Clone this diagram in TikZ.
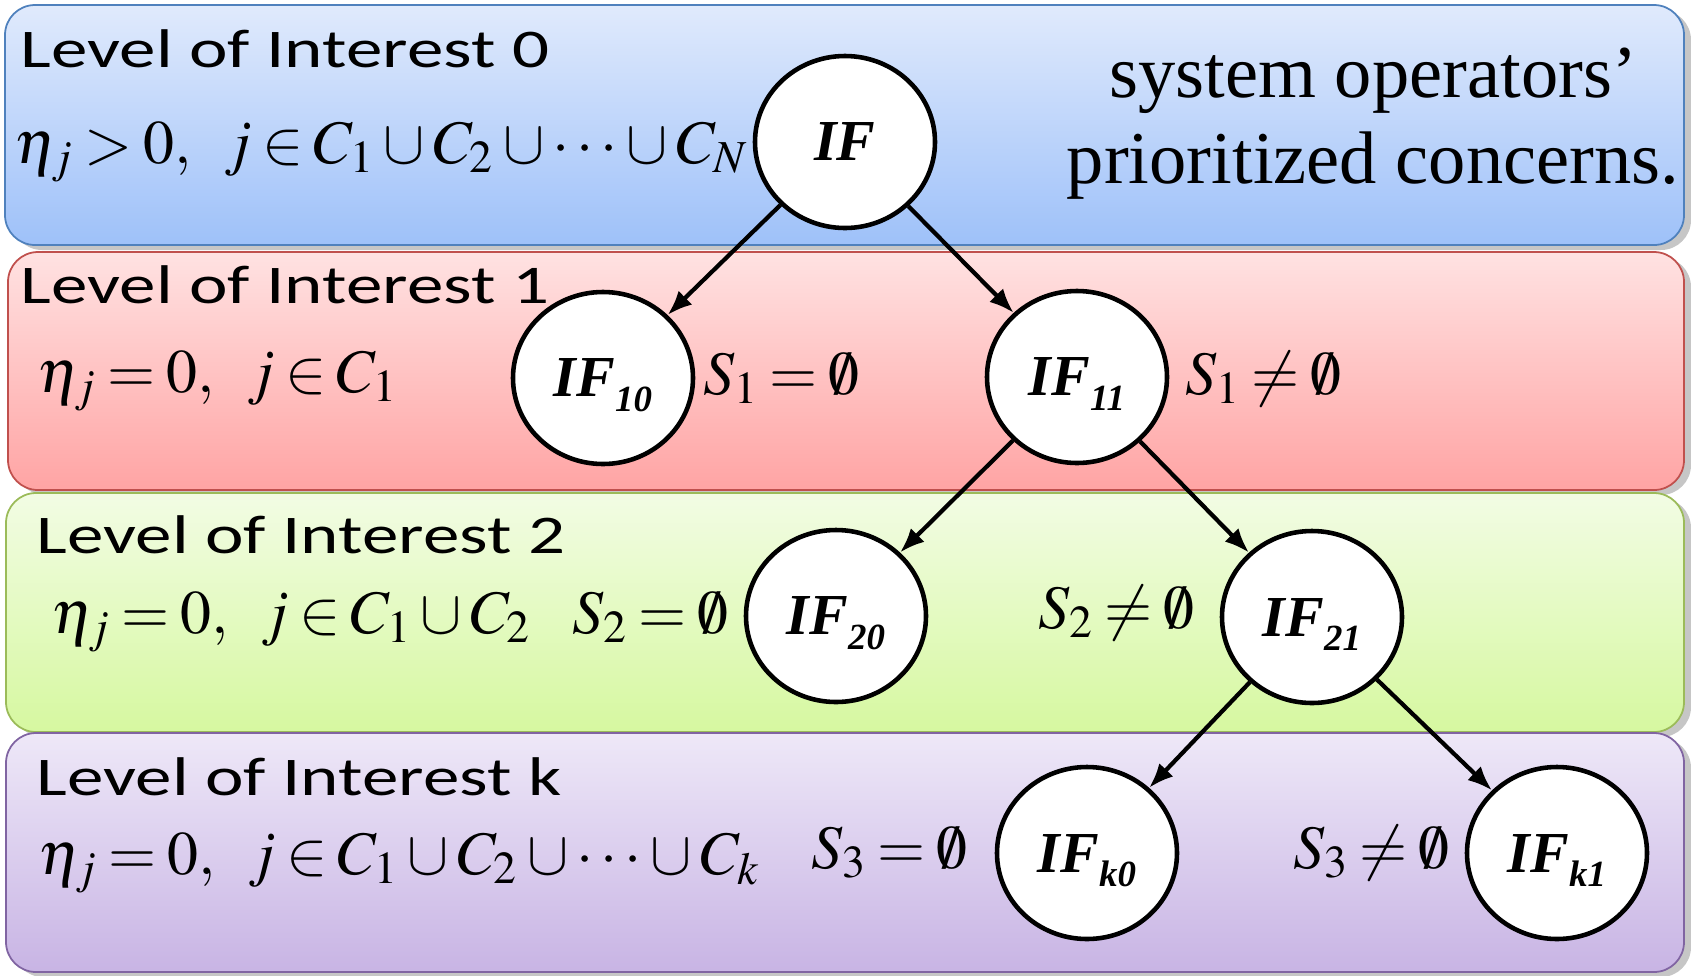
\documentclass[tikz,border=0pt]{standalone}
\usepackage{mathptmx}
\usepackage[no-math]{fontspec}
\setmainfont{Liberation Serif}
\newfontfamily\lvlfont[FakeStretch=1.34]{Carlito}
\usepackage{tikz}
\usetikzlibrary{shadows}
\usetikzlibrary{positioning}
\usetikzlibrary{arrows.meta,shapes}

\thickmuskip=3mu plus 5mu\relax

\definecolor{bluetop}{RGB}{224,234,252}
\definecolor{bluebot}{RGB}{158,193,249}
\definecolor{blueline}{RGB}{79,129,189}
\definecolor{redtop}{RGB}{255,226,226}
\definecolor{redbot}{RGB}{255,164,164}
\definecolor{redline}{RGB}{192,80,77}
\definecolor{greentop}{RGB}{242,252,228}
\definecolor{greenbot}{RGB}{214,248,160}
\definecolor{greenline}{RGB}{155,187,89}
\definecolor{purpletop}{RGB}{238,232,248}
\definecolor{purplebot}{RGB}{200,180,228}
\definecolor{purpleline}{RGB}{128,100,162}

\newcommand{\iflabel}[1]{{\fontsize{16.5}{18}\selectfont\bfseries\itshape IF\smash{\raisebox{-4pt}{\fontsize{10.5}{11}\selectfont #1}}}}

\begin{document}
\begin{tikzpicture}[>={Latex[length=7pt,width=5.5pt]},
  band/.style={draw=#1line, line width=0.5pt, rounded corners=0.3cm,
    top color=#1top, bottom color=#1bot,
    drop shadow={shadow xshift=0.07cm, shadow yshift=-0.05cm, opacity=0.45}},
  levtext/.style={anchor=base west, inner sep=0, font=\lvlfont\fontsize{15.5}{18}\selectfont},
  mtext/.style={anchor=base west, inner sep=0, font=\fontsize{17.6}{20}\selectfont},
  note/.style={anchor=base, inner sep=0, font=\fontsize{21.2}{25}\selectfont},
  ifnode/.style={ellipse, draw, fill=white, line width=1.3pt,
    minimum width=1.8cm, minimum height=1.72cm, inner sep=0},
  arr/.style={line width=1.2pt}]
 \useasboundingbox (0,0) rectangle (16.91,-9.75);

 %boxes
 \path[band=blue] (0.05,-0.05) rectangle (16.84,-2.45);
 \path[band=red] (0.08,-2.52) rectangle (16.84,-4.90);
 \path[band=green] (0.06,-4.93) rectangle (16.84,-7.32);
 \path[band=purple] (0.06,-7.33) rectangle (16.84,-9.72);

 %levels
 \node[levtext] (lv0) at (0.20,-0.67) {Level of Interest 0};
 \node[levtext] (lv1) at (0.20,-3.03) {Level of Interest 1};
 \node[levtext] (lv2) at (0.36,-5.53) {Level of Interest 2};
 \node[levtext] (lvk) at (0.36,-7.95) {Level of Interest k};

 %conditions
 \node[mtext] (c0) at (0.14,-1.63) {$\eta_j>0,\;\ j\in C_1\cup C_2\cup\cdots\cup C_N$};
 \node[mtext] (c1) at (0.37,-3.92) {$\eta_j=0,\;\ j\in C_1$};
 \node[mtext] (c2) at (0.51,-6.33) {$\eta_j=0,\;\ j\in C_1\cup C_2$};
 \node[mtext] (ck) at (0.38,-8.74) {$\eta_j=0,\;\ j\in C_1\cup C_2\cup\cdots\cup C_k$};

 %sets
 \node[mtext] (s10) at (7.03,-3.94) {$S_1=\emptyset$};
 \node[mtext] (s11) at (11.85,-3.94) {$S_1\neq\emptyset$};
 \node[mtext] (s20) at (5.72,-6.33) {$S_2=\emptyset$};
 \node[mtext] (s21) at (10.38,-6.28) {$S_2\neq\emptyset$};
 \node[mtext] (s30) at (8.11,-8.68) {$S_3=\emptyset$};
 \node[mtext] (s31) at (12.93,-8.68) {$S_3\neq\emptyset$};

 %note
 \node[note] (note1) at (13.73,-0.97) {system operators'};
 \node[note] (note2) at (13.73,-1.83) {prioritized concerns.};

 %tree
 \node[ifnode] (if0) at (8.45,-1.42) {\iflabel{}};
 \node[ifnode] (if10) at (6.03,-3.78) {\iflabel{10}};
 \node[ifnode] (if11) at (10.77,-3.77) {\iflabel{11}};
 \node[ifnode] (if20) at (8.36,-6.16) {\iflabel{20}};
 \node[ifnode] (if21) at (13.12,-6.17) {\iflabel{21}};
 \node[ifnode] (ifk0) at (10.87,-8.53) {\iflabel{k0}};
 \node[ifnode] (ifk1) at (15.57,-8.53) {\iflabel{k1}};

 %lines
 \path[draw, ->, arr] (if0) -- (if10);
 \path[draw, ->, arr] (if0) -- (if11);

 \path[draw, ->, arr] (if11) -- (if20);
 \path[draw, ->, arr] (if11) -- (if21);

 \path[draw, ->, arr] (if21) -- (ifk0);
 \path[draw, ->, arr] (if21) -- (ifk1);
\end{tikzpicture}
\end{document}
